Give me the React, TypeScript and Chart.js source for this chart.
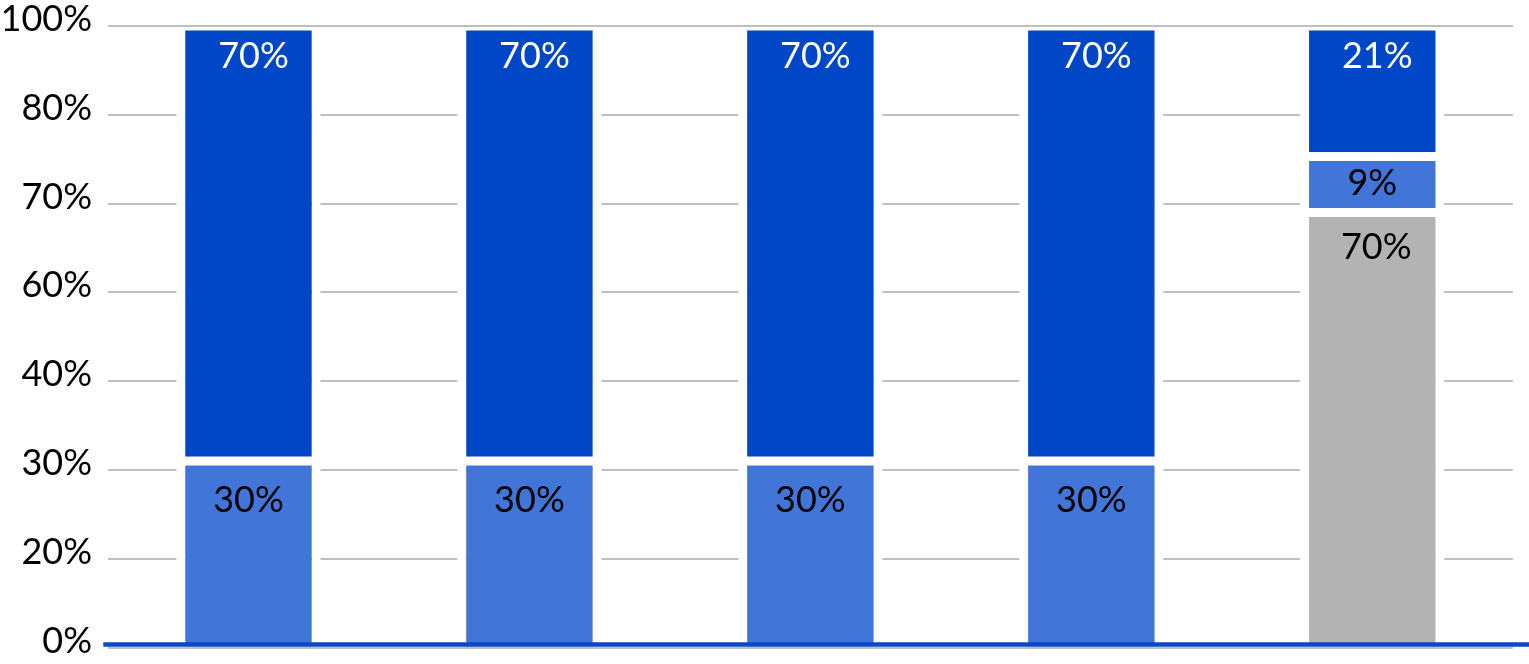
import React, { useEffect, useRef } from 'react';
import { Chart, registerables, Plugin } from 'chart.js';

Chart.register(...registerables);

// five columns, no category labels shown
const categories = ['A', 'B', 'C', 'D', 'E'];
const grayValues = [null, null, null, null, 70];
const lightValues = [30, 30, 30, 30, 9];
const darkValues = [70, 70, 70, 70, 21];
// evenly spaced ticks with these labels
const yTickLabels = ['0%', '20%', '30%', '40%', '60%', '70%', '80%', '100%'];

const FONT = 'Lato, "Noto Sans", sans-serif';

// label styling per dataset: text colour, baseline offset from segment top, x nudge
const labelStyle = [
    { color: '#000000', dy: 46.5, dx: 4 },
    { color: '#000000', dy: 50.5, dx: 0 },
    { color: '#ffffff', dy: 42, dx: 5 },
];

const barLabels: Plugin<'bar'> = {
    id: 'barLabels',
    afterDatasetsDraw(chart) {
        const { ctx, chartArea } = chart;
        const yScale = chart.scales.y;
        ctx.save();

        // top grid line runs across the bars
        const yTop = yScale.getPixelForValue(100);
        ctx.strokeStyle = '#BFBFBF';
        ctx.lineWidth = 2;
        ctx.beginPath();
        ctx.moveTo(chartArea.left, yTop);
        ctx.lineTo(chartArea.right, yTop);
        ctx.stroke();

        ctx.font = `36px ${FONT}`;
        ctx.textAlign = 'center';
        ctx.textBaseline = 'alphabetic';
        chart.data.datasets.forEach((ds, di) => {
            const meta = chart.getDatasetMeta(di);
            meta.data.forEach((el: any, i) => {
                const v = ds.data[i] as number | null;
                if (v == null) return;
                const { x, y, base } = el.getProps(['x', 'y', 'base'], true);
                const st = labelStyle[di];
                const h = base - y;
                const ty = h < 100 ? (y + base) / 2 + 11 : y + st.dy;
                ctx.fillStyle = st.color;
                ctx.fillText(`${v}%`, x + st.dx, ty);
            });
        });

        // blue base line, extends to the right edge
        ctx.strokeStyle = '#0A47C9';
        ctx.lineWidth = 4.4;
        ctx.beginPath();
        ctx.moveTo(chartArea.left - 4.7, chartArea.bottom - 3);
        ctx.lineTo(chart.width, chartArea.bottom - 3);
        ctx.stroke();
        ctx.restore();
    },
};

const App: React.FC = () => {
    const chartRef = useRef<HTMLCanvasElement | null>(null);
    const chartInstanceRef = useRef<Chart | null>(null);

    useEffect(() => {
        if (!chartRef.current) return;
        document.body.style.margin = '0';

        // bottom segment of each column sits on the axis (no white edge)
        const isBottom = (di: number, i: number) => {
            if (di === 0) return true;
            if (di === 1) return grayValues[i] == null;
            return false;
        };

        const common = {
            borderColor: '#ffffff',
            borderSkipped: false as const,
            borderWidth: (c: any) => ({
                top: 4.5,
                bottom: isBottom(c.datasetIndex, c.dataIndex) ? 0 : 4.5,
                left: 9,
                right: 9,
            }),
            barPercentage: 0.514,
            categoryPercentage: 1,
            inflateAmount: 0,
        };

        chartInstanceRef.current = new Chart(chartRef.current, {
            type: 'bar',
            data: {
                labels: categories,
                datasets: [
                    { label: 'Gray', data: grayValues, backgroundColor: '#B3B3B3', ...common },
                    { label: 'Light', data: lightValues, backgroundColor: '#4176D8', ...common },
                    { label: 'Dark', data: darkValues, backgroundColor: '#0047C7', ...common },
                ],
            },
            options: {
                animation: false,
                responsive: true,
                maintainAspectRatio: false,
                layout: { padding: { top: 26, right: 16.25, bottom: 16.5, left: 0 } },
                scales: {
                    x: { stacked: true, display: false },
                    y: {
                        stacked: true,
                        min: 0,
                        max: 100,
                        afterFit: (scale: any) => {
                            scale.width = 108;
                            scale.paddingTop = 0;
                            scale.paddingBottom = 0;
                        },
                        afterBuildTicks: (scale) => {
                            scale.ticks = yTickLabels.map((_, i) => ({ value: (i * 100) / (yTickLabels.length - 1) }));
                        },
                        border: { display: false },
                        grid: { color: '#BFBFBF', lineWidth: 2, drawTicks: false },
                        ticks: {
                            padding: 16,
                            labelOffset: -6.5,
                            color: '#000000',
                            font: { family: FONT, size: 36 },
                            callback: (_v, index) => yTickLabels[index],
                        },
                    },
                },
                plugins: {
                    legend: { display: false },
                    tooltip: { enabled: false },
                },
            },
            plugins: [barLabels],
        });

        return () => {
            chartInstanceRef.current?.destroy();
        };
    }, []);

    return (
        <div style={{ position: 'absolute', left: 0, top: 0, width: 1529, height: 664 }}>
            <canvas ref={chartRef}></canvas>
        </div>
    );
};

export default App;
